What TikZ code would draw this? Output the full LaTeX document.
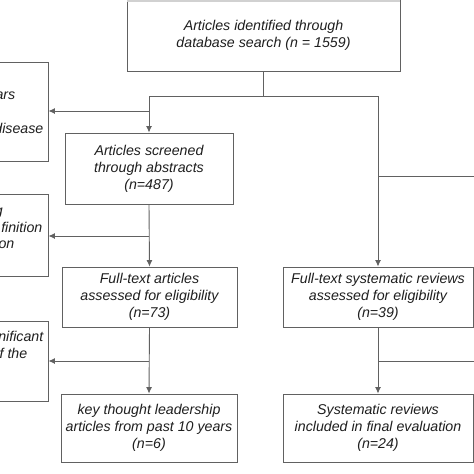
\documentclass[tikz,border=0pt]{standalone}
\usepackage{fontspec}
\setmainfont{Liberation Sans}
\usetikzlibrary{arrows.meta}
\tikzset{
  box/.style={draw=black!62, line width=0.9pt, align=center, inner sep=0pt,
    font=\fontsize{14.2}{17}\selectfont\itshape, text=black!88},
  frag/.style={inner sep=0pt, font=\fontsize{14.2}{17}\selectfont\itshape, text=black!88, anchor=base east},
  ln/.style={draw=black!62, line width=0.9pt},
  arr/.style={ln, -{Latex[length=6.5pt,width=6pt]}},
}
\begin{document}
\begin{tikzpicture}[x=1pt,y=-1pt]
\useasboundingbox (0,0) rectangle (474,474);
\fill[white] (0,0) rectangle (474,474);
% boxes
\node[box, minimum width=273pt, minimum height=72pt] (top) at (263.5,35) {Articles identified through\\database search (n = 1559)};
\fill[black!18] (127,0) rectangle (400,2);
\node[box, minimum width=168pt, minimum height=71pt] (scr) at (149,168.5) {Articles screened\\through abstracts\\(n=487)};
\node[box, minimum width=175pt, minimum height=60pt] (ftl) at (149.5,297) {Full-text articles\\assessed for eligibility\\(n=73)};
\node[box, minimum width=176pt, minimum height=68pt] (key) at (149,428) {key thought leadership\\articles from past 10 years\\(n=6)};
\node[box, minimum width=190pt, minimum height=60pt] (sys) at (378,297) {Full-text systematic reviews\\assessed for eligibility\\(n=39)};
\node[box, minimum width=190pt, minimum height=68pt] (fin) at (378,428) {Systematic reviews\\included in final evaluation\\(n=24)};
% left exclusion boxes (cut by the page edge)
\node[box, minimum width=108pt, minimum height=99pt] (ex1) at (-6,111.5) {};
\node[box, minimum width=108pt, minimum height=82pt] (ex2) at (-6,235) {};
\node[box, minimum width=108pt, minimum height=80pt] (ex3) at (-6,361) {};
\node[frag] (t1a) at (15.5,99) {ars};
\node[frag] (t1b) at (43.5,133) {disease};
\node[frag] (t2a) at (3,215) {g};
\node[frag] (t2b) at (42.5,232) {finition};
\node[frag] (t2c) at (14.5,248) {on};
\node[frag] (t3a) at (43.5,341) {nificant};
\node[frag] (t3b) at (27.5,358) {f the};
% connectors
\coordinate (jL) at (149,96);
\coordinate (jR) at (378,96);
\draw[ln] (top.south) |- (jL);
\draw[ln] (top.south) |- (jR);
\draw[arr] (jL) -- (scr.north);
\draw[arr] (jR) -- (sys.north);
\coordinate (b1) at (149,111);
\draw[arr] (b1) -- (ex1.east |- b1);
\draw[arr] (scr.south) -- (ftl.north);
\coordinate (b2) at (149,236);
\draw[arr] (b2) -- (ex2.east |- b2);
\draw[arr] (ftl.south) -- (key.north);
\coordinate (b3) at (149,361);
\draw[arr] (b3) -- (ex3.east |- b3);
\draw[arr] (sys.south) -- (fin.north);
\coordinate (r1) at (476,176);
\coordinate (r2) at (476,361);
\draw[ln] (jR |- r1) -- (r1);
\draw[ln] (sys.south |- r2) -- (r2);
\end{tikzpicture}
\end{document}
